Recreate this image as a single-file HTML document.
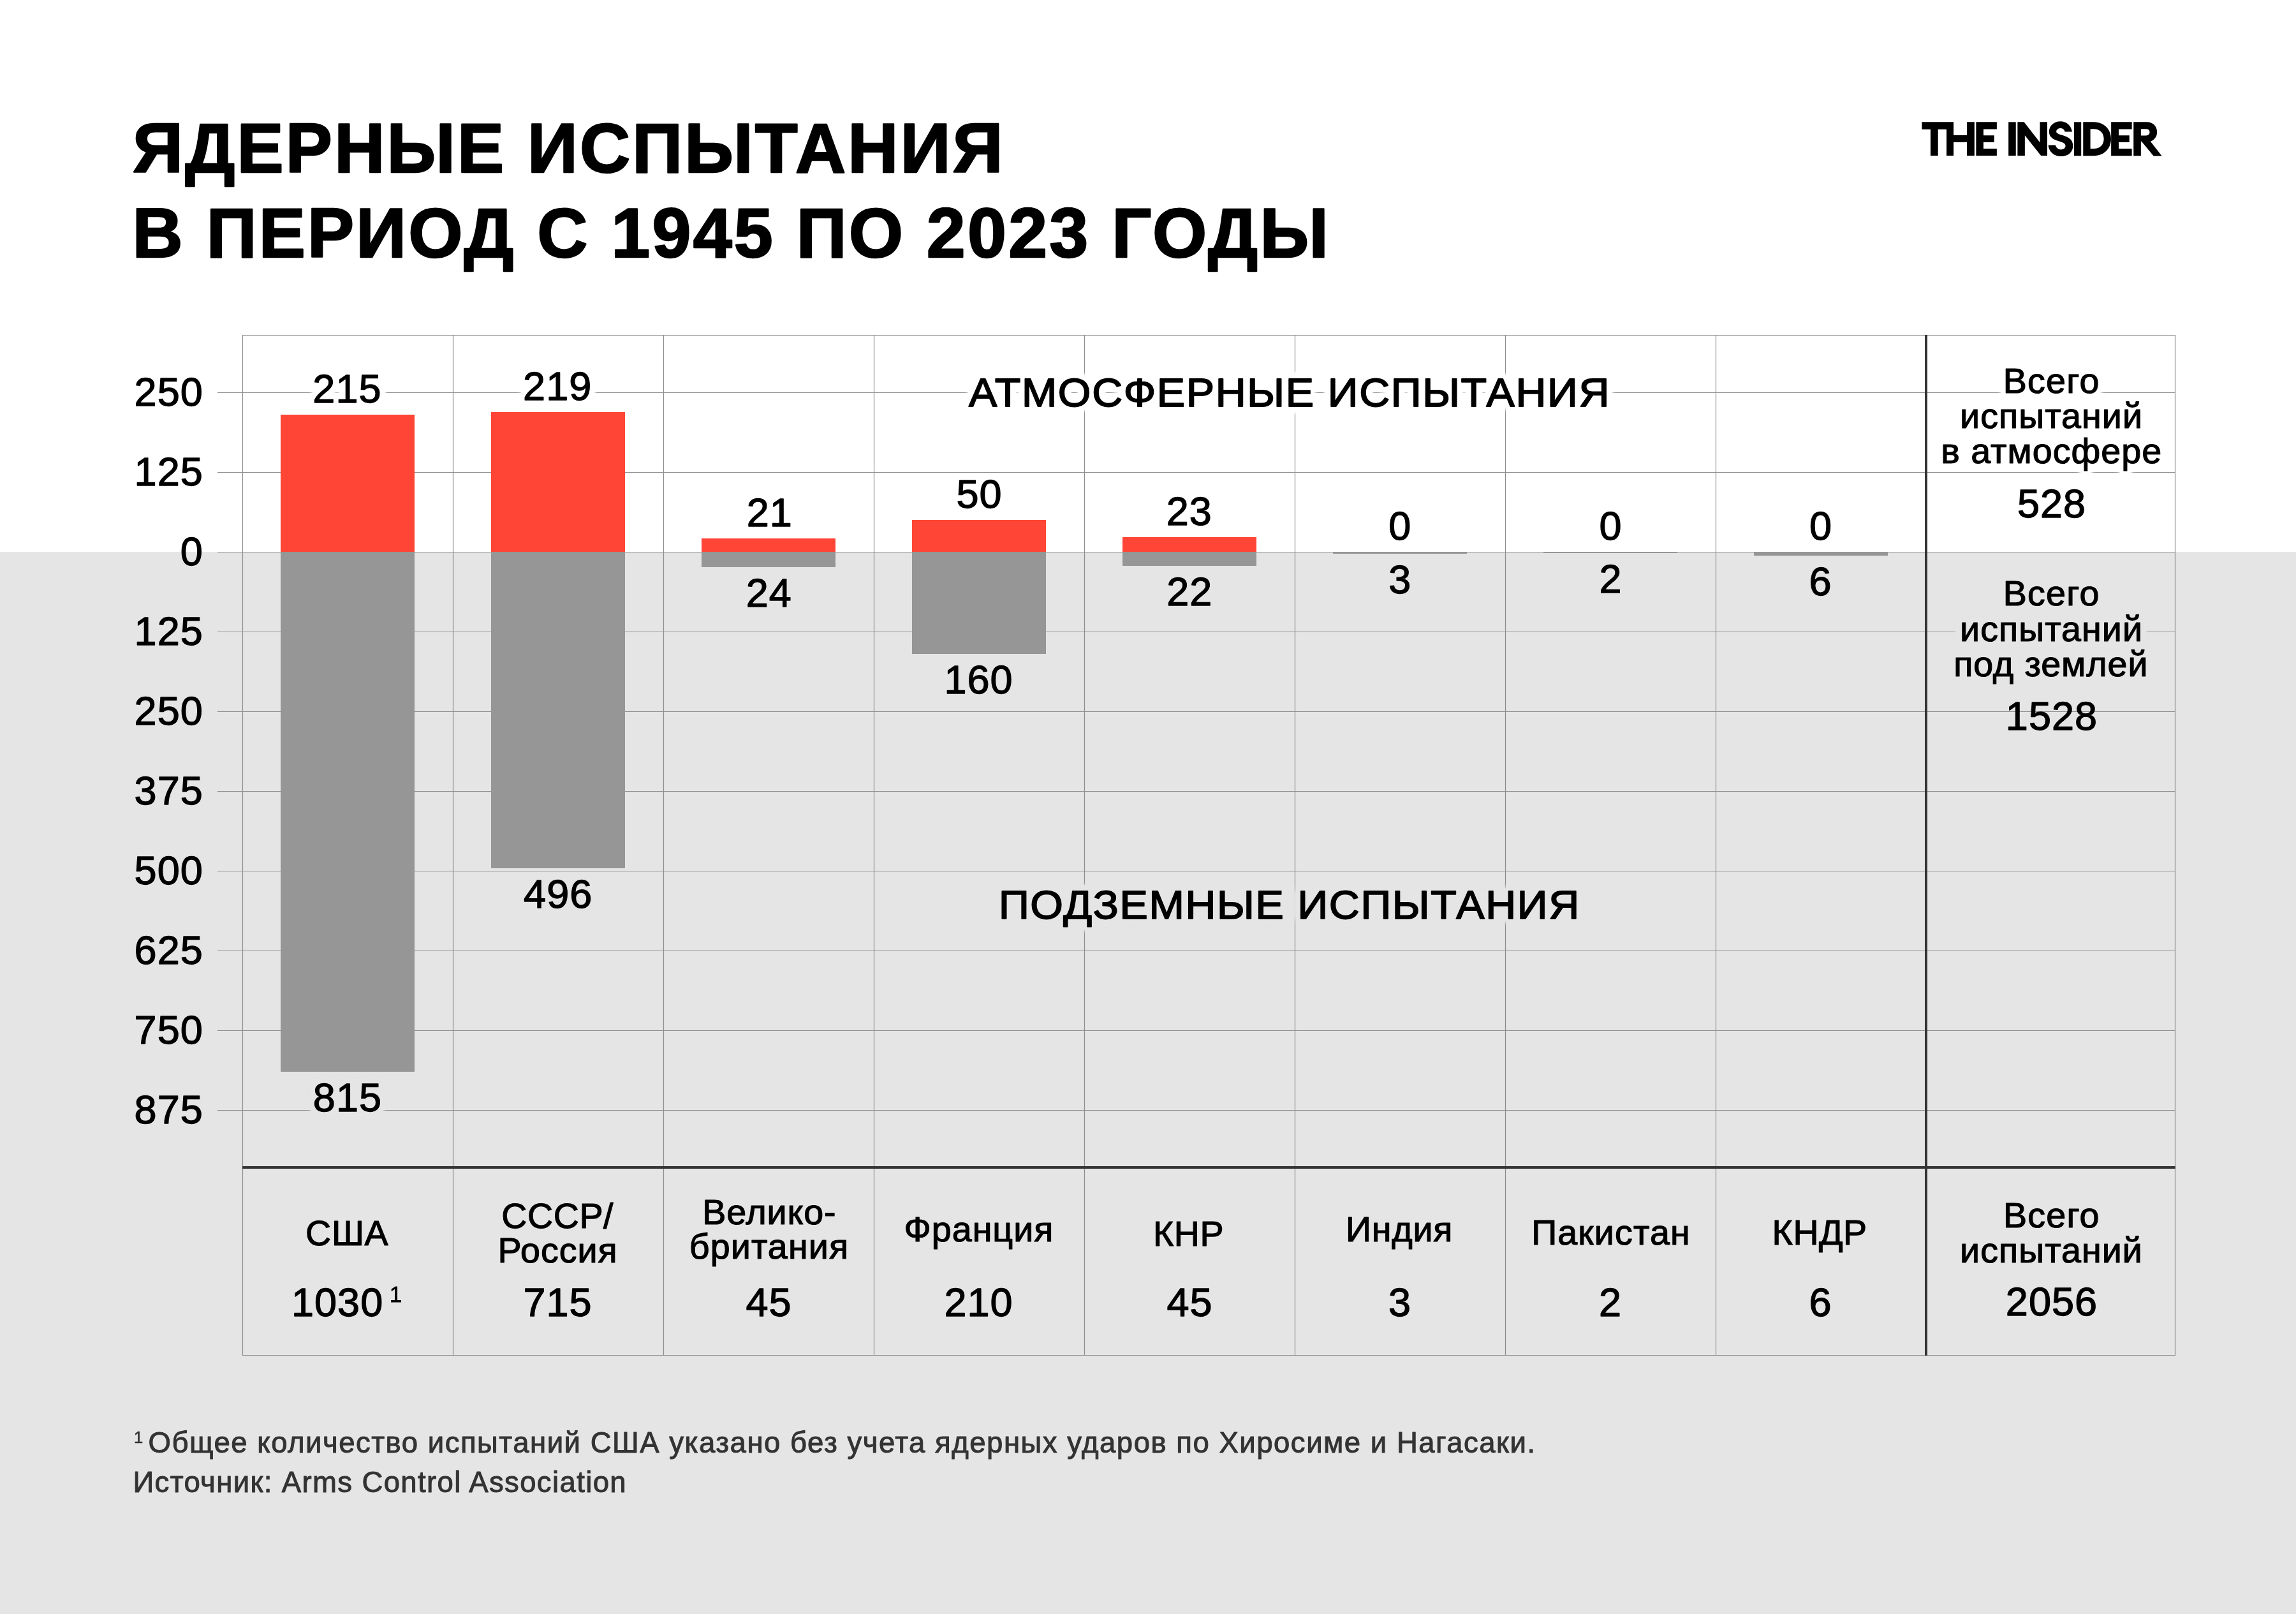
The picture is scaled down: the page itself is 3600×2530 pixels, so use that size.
<!DOCTYPE html>
<html lang="ru"><head><meta charset="utf-8"><title>Ядерные испытания в период с 1945 по 2023 годы</title>
<style>html,body{margin:0;padding:0;background:#fff}body{width:3600px;height:2530px;position:relative;overflow:hidden;font-family:"Liberation Sans", sans-serif}</style>
</head><body>
<svg width="3600" height="2530" viewBox="0 0 3600 2530" style="position:absolute;left:0;top:0;display:block;will-change:transform">
<defs><filter id="gws" x="-0.3" y="-0.4" width="1.6" height="1.8" color-interpolation-filters="sRGB"><feGaussianBlur in="SourceAlpha" stdDeviation="6" result="b"/><feComponentTransfer in="b" result="b2"><feFuncA type="linear" slope="14" intercept="0"/></feComponentTransfer><feFlood flood-color="#ffffff"/><feComposite in2="b2" operator="in" result="g"/><feMerge><feMergeNode in="g"/><feMergeNode in="SourceGraphic"/></feMerge></filter><filter id="gwl" x="-0.04" y="-0.4" width="1.08" height="1.8" color-interpolation-filters="sRGB"><feGaussianBlur in="SourceAlpha" stdDeviation="6" result="b"/><feComponentTransfer in="b" result="b2"><feFuncA type="linear" slope="14" intercept="0"/></feComponentTransfer><feFlood flood-color="#ffffff"/><feComposite in2="b2" operator="in" result="g"/><feMerge><feMergeNode in="g"/><feMergeNode in="SourceGraphic"/></feMerge></filter><filter id="ggs" x="-0.3" y="-0.4" width="1.6" height="1.8" color-interpolation-filters="sRGB"><feGaussianBlur in="SourceAlpha" stdDeviation="6" result="b"/><feComponentTransfer in="b" result="b2"><feFuncA type="linear" slope="14" intercept="0"/></feComponentTransfer><feFlood flood-color="#e5e5e5"/><feComposite in2="b2" operator="in" result="g"/><feMerge><feMergeNode in="g"/><feMergeNode in="SourceGraphic"/></feMerge></filter><filter id="ggl" x="-0.04" y="-0.4" width="1.08" height="1.8" color-interpolation-filters="sRGB"><feGaussianBlur in="SourceAlpha" stdDeviation="6" result="b"/><feComponentTransfer in="b" result="b2"><feFuncA type="linear" slope="14" intercept="0"/></feComponentTransfer><feFlood flood-color="#e5e5e5"/><feComposite in2="b2" operator="in" result="g"/><feMerge><feMergeNode in="g"/><feMergeNode in="SourceGraphic"/></feMerge></filter></defs>
<rect x="0" y="0" width="3600" height="2530" fill="#ffffff"/>
<rect x="0" y="865" width="3600" height="1665" fill="#e5e5e5"/>
<path d="M380.5,525V2125M710.5,525V2125M1040.5,525V2125M1370.5,525V2125M1700.5,525V2125M2030.5,525V2125M2360.5,525V2125M2690.5,525V2125M3410.5,525V2125M380,525.5H3411M380,2124.5H3411M341,615.5H3411M341,740.5H3411M341,865.5H3411M341,990.5H3411M341,1115.5H3411M341,1240.5H3411M341,1365.5H3411M341,1490.5H3411M341,1615.5H3411M341,1740.5H3411" stroke="#8e8e8e" stroke-width="1.2" fill="none"/>
<rect x="440" y="650" width="210" height="215" fill="#ff4535"/>
<rect x="440" y="865" width="210" height="815" fill="#969696"/>
<rect x="770" y="646" width="210" height="219" fill="#ff4535"/>
<rect x="770" y="865" width="210" height="496" fill="#969696"/>
<rect x="1100" y="844" width="210" height="21" fill="#ff4535"/>
<rect x="1100" y="865" width="210" height="24" fill="#969696"/>
<rect x="1430" y="815" width="210" height="50" fill="#ff4535"/>
<rect x="1430" y="865" width="210" height="160" fill="#969696"/>
<rect x="1760" y="842" width="210" height="23" fill="#ff4535"/>
<rect x="1760" y="865" width="210" height="22" fill="#969696"/>
<rect x="2090" y="865" width="210" height="3" fill="#969696"/>
<rect x="2420" y="865" width="210" height="2" fill="#969696"/>
<rect x="2750" y="865" width="210" height="6" fill="#969696"/>
<rect x="380" y="1828" width="3031" height="4" fill="#343434"/>
<rect x="3018" y="525" width="4" height="1600" fill="#343434"/>
<g font-family='"Liberation Sans", sans-serif' fill="#000" stroke="#000" stroke-linejoin="round">
<g filter="url(#gws)"><text x="490.31" y="631.00" font-size="63" stroke-width="1.3" letter-spacing="1.050">215</text></g>
<g filter="url(#gws)"><text x="820.11" y="627.00" font-size="63" stroke-width="1.3" letter-spacing="1.050">219</text></g>
<g filter="url(#gwl)"><text transform="translate(1518.94,636.60) scale(1.042,1)" font-size="63.7" stroke-width="1.8" letter-spacing="1.599">АТМОСФЕРНЫЕ ИСПЫТАНИЯ</text></g>
<g filter="url(#gws)"><text x="3140.80" y="616.40" font-size="55.6" stroke-width="1.2" letter-spacing="1.212">Всего</text></g>
<g filter="url(#gwl)"><text x="3073.10" y="671.30" font-size="55.6" stroke-width="1.2" letter-spacing="1.047">испытаний</text></g>
<g filter="url(#gwl)"><text x="3043.20" y="726.30" font-size="55.6" stroke-width="1.2" letter-spacing="1.045">в атмосфере</text></g>
<g filter="url(#ggs)"><text x="490.81" y="1741.50" font-size="63" stroke-width="1.3" letter-spacing="1.050">815</text></g>
<g filter="url(#ggl)"><text transform="translate(1565.93,1440.20) scale(1.042,1)" font-size="63.7" stroke-width="1.8" letter-spacing="1.601">ПОДЗЕМНЫЕ ИСПЫТАНИЯ</text></g>
<g filter="url(#ggs)"><text x="3140.80" y="949.30" font-size="55.6" stroke-width="1.2" letter-spacing="1.212">Всего</text></g>
<g filter="url(#ggl)"><text x="3073.10" y="1004.50" font-size="55.6" stroke-width="1.2" letter-spacing="1.047">испытаний</text></g>
<g filter="url(#ggl)"><text x="3063.20" y="1059.50" font-size="55.6" stroke-width="1.2" letter-spacing="0.906">под землей</text></g>
<text x="210.57" y="635.50" font-size="63" stroke-width="1.3" letter-spacing="1.050">250</text>
<text x="210.57" y="760.50" font-size="63" stroke-width="1.3" letter-spacing="1.050">125</text>
<text x="282.75" y="885.50" font-size="63" stroke-width="1.3" letter-spacing="1.050">0</text>
<text x="210.57" y="1010.50" font-size="63" stroke-width="1.3" letter-spacing="1.050">125</text>
<text x="210.57" y="1135.50" font-size="63" stroke-width="1.3" letter-spacing="1.050">250</text>
<text x="210.57" y="1260.50" font-size="63" stroke-width="1.3" letter-spacing="1.050">375</text>
<text x="210.57" y="1385.50" font-size="63" stroke-width="1.3" letter-spacing="1.050">500</text>
<text x="210.57" y="1510.50" font-size="63" stroke-width="1.3" letter-spacing="1.050">625</text>
<text x="210.57" y="1635.50" font-size="63" stroke-width="1.3" letter-spacing="1.050">750</text>
<text x="210.57" y="1760.50" font-size="63" stroke-width="1.3" letter-spacing="1.050">875</text>
<text x="1170.76" y="825.00" font-size="63" stroke-width="1.3" letter-spacing="1.050">21</text>
<text x="1499.46" y="796.00" font-size="63" stroke-width="1.3" letter-spacing="1.050">50</text>
<text x="1828.66" y="823.00" font-size="63" stroke-width="1.3" letter-spacing="1.050">23</text>
<text x="2177.30" y="846.00" font-size="63" stroke-width="1.3" letter-spacing="1.050">0</text>
<text x="2507.50" y="846.00" font-size="63" stroke-width="1.3" letter-spacing="1.050">0</text>
<text x="2837.10" y="846.00" font-size="63" stroke-width="1.3" letter-spacing="1.050">0</text>
<text x="821.11" y="1422.50" font-size="63" stroke-width="1.3" letter-spacing="1.050">496</text>
<text x="1169.76" y="950.50" font-size="63" stroke-width="1.3" letter-spacing="1.050">24</text>
<text x="1480.41" y="1086.50" font-size="63" stroke-width="1.3" letter-spacing="1.050">160</text>
<text x="1829.16" y="948.50" font-size="63" stroke-width="1.3" letter-spacing="1.050">22</text>
<text x="2177.30" y="929.50" font-size="63" stroke-width="1.3" letter-spacing="1.050">3</text>
<text x="2507.50" y="928.50" font-size="63" stroke-width="1.3" letter-spacing="1.050">2</text>
<text x="2836.60" y="932.50" font-size="63" stroke-width="1.3" letter-spacing="1.050">6</text>
<text x="3162.91" y="810.50" font-size="63" stroke-width="1.3" letter-spacing="1.050">528</text>
<text x="3144.87" y="1144.20" font-size="63" stroke-width="1.3" letter-spacing="1.050">1528</text>
<text x="208.30" y="270.30" font-size="109.6" font-weight="700" stroke-width="2.4" letter-spacing="3.206">ЯДЕРНЫЕ ИСПЫТАНИЯ</text>
<text x="207.60" y="402.60" font-size="109.6" font-weight="700" stroke-width="2.4" letter-spacing="3.223">В ПЕРИОД С 1945 ПО 2023 ГОДЫ</text>
<text x="479.10" y="1951.70" font-size="55.6" stroke-width="1.2" letter-spacing="0.650">США</text>
<text x="786.20" y="1924.60" font-size="55.6" stroke-width="1.2" letter-spacing="0.594">СССР/</text>
<text x="780.50" y="1979.10" font-size="55.6" stroke-width="1.2" letter-spacing="0.939">Россия</text>
<text x="1101.30" y="1918.60" font-size="55.6" stroke-width="1.2" letter-spacing="0.865">Велико-</text>
<text x="1080.70" y="1973.10" font-size="55.6" stroke-width="1.2" letter-spacing="1.125">британия</text>
<text x="1417.60" y="1945.70" font-size="55.6" stroke-width="1.2" letter-spacing="0.983">Франция</text>
<text x="1808.10" y="1952.50" font-size="55.6" stroke-width="1.2" letter-spacing="0.384">КНР</text>
<text x="2110.00" y="1945.50" font-size="55.6" stroke-width="1.2" letter-spacing="0.787">Индия</text>
<text x="2401.20" y="1951.00" font-size="55.6" stroke-width="1.2" letter-spacing="1.142">Пакистан</text>
<text x="2778.60" y="1951.00" font-size="55.6" stroke-width="1.2" letter-spacing="0.439">КНДР</text>
<text x="3141.10" y="1923.70" font-size="55.6" stroke-width="1.2" letter-spacing="1.162">Всего</text>
<text x="3073.10" y="1978.50" font-size="55.6" stroke-width="1.2" letter-spacing="1.034">испытаний</text>
<text x="456.95" y="2062.50" font-size="63" stroke-width="1.3" letter-spacing="1.050">1030</text>
<text x="610.80" y="2040.70" font-size="35" stroke-width="0.8" letter-spacing="0.000">1</text>
<text x="820.41" y="2062.50" font-size="63" stroke-width="1.3" letter-spacing="1.050">715</text>
<text x="1169.46" y="2062.50" font-size="63" stroke-width="1.3" letter-spacing="1.050">45</text>
<text x="1480.41" y="2062.50" font-size="63" stroke-width="1.3" letter-spacing="1.050">210</text>
<text x="1829.46" y="2062.50" font-size="63" stroke-width="1.3" letter-spacing="1.050">45</text>
<text x="2177.00" y="2062.50" font-size="63" stroke-width="1.3" letter-spacing="1.050">3</text>
<text x="2507.00" y="2062.50" font-size="63" stroke-width="1.3" letter-spacing="1.050">2</text>
<text x="2836.50" y="2062.50" font-size="63" stroke-width="1.3" letter-spacing="1.050">6</text>
<text x="3144.87" y="2062.10" font-size="63" stroke-width="1.3" letter-spacing="1.050">2056</text>
<text x="209.95" y="2261.80" font-size="25.6" stroke-width="0.7" letter-spacing="0.000" fill="#333333" stroke="#333333">1</text>
<text x="232.50" y="2276.90" font-size="45.5" stroke-width="1.0" letter-spacing="1.514" fill="#333333" stroke="#333333">Общее количество испытаний США указано без учета ядерных ударов по Хиросиме и Нагасаки.</text>
<text x="208.50" y="2339.40" font-size="45.5" stroke-width="1.0" letter-spacing="1.373" fill="#333333" stroke="#333333">Источник: Arms Control Association</text>
</g>
<g fill="#000" fill-rule="evenodd">
<g transform="translate(3005,180) scale(0.08711)">
<path d="M97,130H667V735H540V262H387V735H252V262H97Z"/>
<path d="M600,368H908V130H1043V735H908V495H600Z"/>
<path d="M1072,130H1445V258H1205V370H1398V493H1205V608H1445V735H1072Z"/>
<path d="M1655,130H1788V735H1655Z"/>
<path d="M1818,130H1935L2221,496V130H2353V735H2240L1950,370V735H1818Z"/>
</g>
<g transform="translate(3195,180) scale(0.08711)">
<path d="M620,305C600,190 520,117 410,117C290,117 205,200 205,300C205,400 270,440 400,480C470,502 500,520 500,560C500,600 460,625 420,625C370,625 335,595 320,545H190C200,660 290,747 420,747C550,747 635,670 635,560C635,440 550,400 440,365C360,340 335,325 335,300C335,265 370,240 410,240C450,240 480,265 490,305Z"/>
<path d="M655,130H783V737H655Z"/>
<path d="M818,130H1010C1190,130 1320,260 1320,433C1320,610 1190,737 1010,737H818ZM948,255V608H1010C1120,608 1190,540 1190,433C1190,325 1120,255 1010,255Z"/>
<path d="M1322,130H1695V258H1458V370H1650V493H1458V608H1695V737H1322Z"/>
<path d="M1725,130H1960C2080,130 2148,210 2148,310C2148,395 2100,455 2030,480L2235,740H2085L1870,480H1858V737H1725ZM1858,255V372H1950C1995,372 2015,345 2015,313C2015,280 1995,255 1950,255Z"/>
</g></g>
</svg>
</body></html>
